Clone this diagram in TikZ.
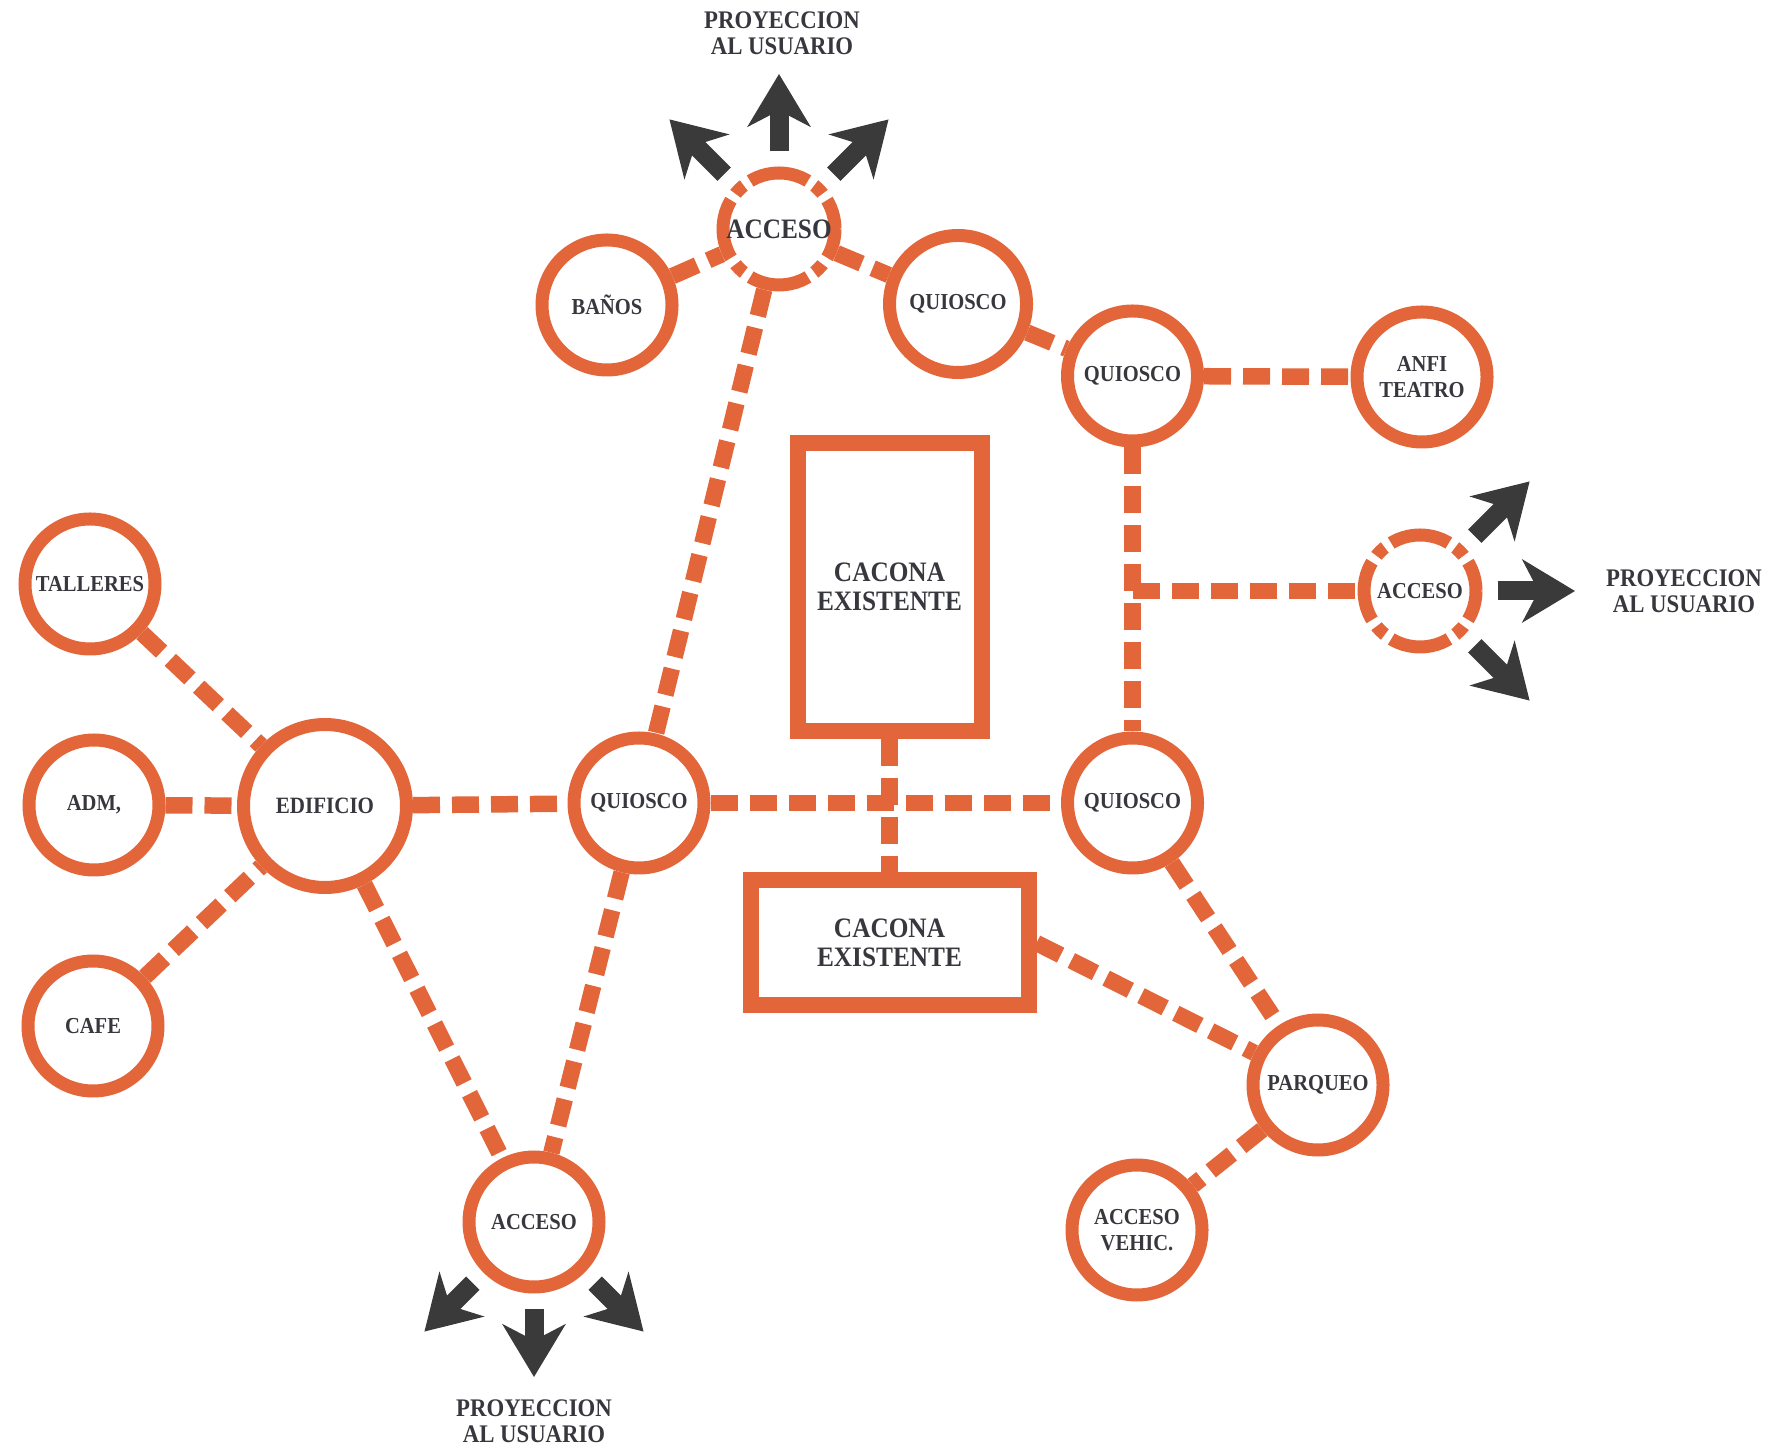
\documentclass[tikz,border=0pt]{standalone}
\usepackage{fontspec}
\setmainfont{Liberation Serif}[FakeStretch=0.9]
\usetikzlibrary{arrows.meta,calc}

\definecolor{naranja}{RGB}{226,102,58}
\definecolor{flecha}{RGB}{58,58,58}
\definecolor{texto}{RGB}{55,55,62}

\tikzset{
  lugar/.style={circle,draw=naranja,line width=0.26cm,minimum size=2.6cm,inner sep=0pt,
    align=center,text=texto,font=\fontsize{13}{14.5}\selectfont\bfseries},
  acceso/.style={lugar,minimum size=2.24cm,
    dash pattern=on 1.2120cm off 0.1564cm on 0.2346cm off 0.1564cm,dash phase=0.6060cm},
  caja/.style={rectangle,draw=naranja,line width=0.32cm,inner sep=0pt,
    align=center,text=texto,font=\fontsize{16}{16.5}\selectfont\bfseries},
  conexion/.style={draw=naranja,line width=0.33cm,dash pattern=on 0.54cm off 0.24cm},
  proy/.style={draw=flecha,line width=0.38cm,shorten <=0.3cm,
    -{Stealth[length=1.05cm,width=1.25cm,inset=0.32cm]}},
  leyenda/.style={align=center,text=texto,font=\fontsize{14.4}{14.7}\selectfont\bfseries}
}

\begin{document}
\begin{tikzpicture}

\useasboundingbox (0,0) rectangle (35.4,29.04);

% 绘制节点
\node[lugar] (talleres) at (1.80,17.36) {TALLERES};
\node[lugar] (adm) at (1.88,12.94) {ADM,};
\node[lugar] (cafe) at (1.86,8.52) {CAFE};
\node[lugar,minimum size=3.26cm,font=\fontsize{13.3}{14}\selectfont\bfseries] (edificio) at (6.50,12.92) {EDIFICIO};
\node[lugar] (quioscoA) at (12.78,12.98) {QUIOSCO};
\node[lugar] (quioscoB) at (22.65,12.98) {QUIOSCO};
\node[lugar] (banos) at (12.14,22.94) {BAÑOS};
\node[acceso,font=\fontsize{16}{17}\selectfont\bfseries] (accesoT) at (15.58,24.46) {ACCESO};
\node[lugar,minimum size=2.74cm] (quioscoT) at (19.16,22.96) {QUIOSCO};
\node[lugar] (quioscoR) at (22.65,21.52) {QUIOSCO};
\node[lugar] (anfi) at (28.44,21.50) {ANFI\\TEATRO};
\node[acceso] (accesoR) at (28.40,17.22) {ACCESO};
\node[lugar] (parqueo) at (26.36,7.34) {PARQUEO};
\node[lugar] (vehic) at (22.74,4.44) {ACCESO\\VEHIC.};
\node[lugar] (accesoB) at (10.68,4.60) {ACCESO};

% 卡科纳（矩形）
\node[caja,minimum width=3.68cm,minimum height=5.76cm] (cacA) at (17.79,17.30) {CACONA\\EXISTENTE};
\node[caja,minimum width=5.56cm,minimum height=2.50cm] (cacB) at (17.79,10.18) {CACONA\\EXISTENTE};

% 虚线连接
\draw[conexion] (banos) -- (accesoT);
\draw[conexion] (accesoT) -- (quioscoT);
\draw[conexion] (accesoT) -- (quioscoA);
\draw[conexion] (quioscoT) -- (quioscoR);
\draw[conexion] (quioscoR) -- (anfi);
\draw[conexion] (quioscoR) -- (quioscoB);
\coordinate (te) at (quioscoR |- accesoR);
\draw[conexion] (te) -- (accesoR);
\draw[conexion] (talleres) -- (edificio);
\draw[conexion] (adm) -- (edificio);
\draw[conexion] (cafe) -- (edificio);
\draw[conexion] (edificio) -- (quioscoA);
\draw[conexion] (quioscoA) -- (quioscoB);
\draw[conexion] (cacA) -- (cacB);
\draw[conexion] (edificio) -- (accesoB);
\draw[conexion] (quioscoA) -- (accesoB);
\draw[conexion] (cacB.east) -- (parqueo);
\draw[conexion] (quioscoB) -- (parqueo);
\draw[conexion] (parqueo) -- (vehic);

% 投射箭头
\foreach \a in {45,90,135}{
  \coordinate (pT\a) at ($(accesoT)+(\a:3.1)$);
  \draw[proy] (accesoT) -- (pT\a);
}
\foreach \a in {45,0,-45}{
  \coordinate (pR\a) at ($(accesoR)+(\a:3.1)$);
  \draw[proy] (accesoR) -- (pR\a);
}
\foreach \a in {225,270,315}{
  \coordinate (pB\a) at ($(accesoB)+(\a:3.1)$);
  \draw[proy] (accesoB) -- (pB\a);
}

% 文字
\node[leyenda] (proyT) at (15.64,28.38) {PROYECCION\\AL USUARIO};
\node[leyenda] (proyR) at (33.68,17.22) {PROYECCION\\AL USUARIO};
\node[leyenda] (proyB) at (10.68,0.62) {PROYECCION\\AL USUARIO};

\end{tikzpicture}
\end{document}
